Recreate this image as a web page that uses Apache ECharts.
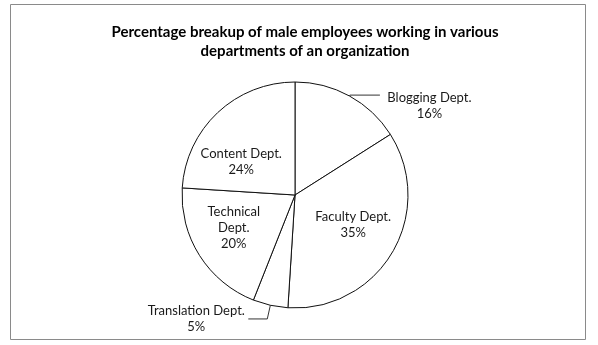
<!DOCTYPE html>
<html><head><meta charset="utf-8">
<script src="https://cdn.jsdelivr.net/npm/echarts@6/dist/echarts.min.js"></script>
<style>html,body{margin:0;padding:0;background:#fff}#c{width:598px;height:345px}</style>
</head><body><div id="c"></div>
<script>
const titleLines = ['Percentage breakup of male employees working in various', 'departments of an organization'];
const categories = ['Blogging Dept.', 'Faculty Dept.', 'Translation Dept.', 'Technical\nDept.', 'Content Dept.'];
const values = [16, 35, 5, 20, 24];
const outside = [true, false, true, false, false];

// label placement tweaks (style only)
const labelNudge = [[0, 3], [7, 0], [4, 0], [-11, 1], [-13, 10]];

const FONT = 'Lato';
const LFS = 13;
const ctx = document.createElement('canvas').getContext('2d');
ctx.font = LFS + 'px ' + FONT;

const chart = echarts.init(document.getElementById('c'), null, {renderer: 'canvas'});
const data = categories.map((name, i) => {
  const item = {name: name, value: values[i]};
  if (outside[i]) {
    const w = Math.ceil(ctx.measureText(name).width);
    item.label = {
      position: 'outside', distanceToLabelLine: 7,
      formatter: '{a|{b}}\n{a|{c}%}',
      padding: i === 0 ? [16, 0, 0, 0] : 0,
      rich: {a: {align: 'center', width: w, fontFamily: FONT, fontSize: LFS, color: '#1a1a1a', lineHeight: 16}}
    };
    item.labelLine = {show: true, length: i === 0 ? 1 : 14, length2: i === 0 ? 30 : 19, lineStyle: {color: '#333', width: 1}};
  } else {
    item.label = {position: 'inside'};
    item.labelLine = {show: false};
  }
  return item;
});
chart.setOption({
  animation: false,
  backgroundColor: '#fff',
  title: {
    text: titleLines.join('\n'),
    left: 300, top: 18, textAlign: 'center',
    textStyle: {fontFamily: FONT, fontWeight: 'bold', fontSize: 15, color: '#000', lineHeight: 19}
  },
  graphic: [{type: 'rect', shape: {x: 10.5, y: 4.5, width: 575, height: 335}, style: {fill: 'none', stroke: '#8a8a8a', lineWidth: 1}, silent: true}],
  series: [{
    type: 'pie',
    center: [295, 195],
    radius: [0, 113],
    startAngle: 90,
    clockwise: true,
    avoidLabelOverlap: false,
    itemStyle: {color: '#fff', borderColor: '#111', borderWidth: 1},
    emphasis: {disabled: true},
    label: {
      show: true, formatter: '{b}\n{c}%',
      fontFamily: FONT, fontSize: LFS, color: '#1a1a1a', lineHeight: 16
    },
    labelLayout: function (p) {
      const n = labelNudge[p.dataIndex];
      return {dx: n[0], dy: n[1]};
    },
    data: data
  }]
});
</script></body></html>
